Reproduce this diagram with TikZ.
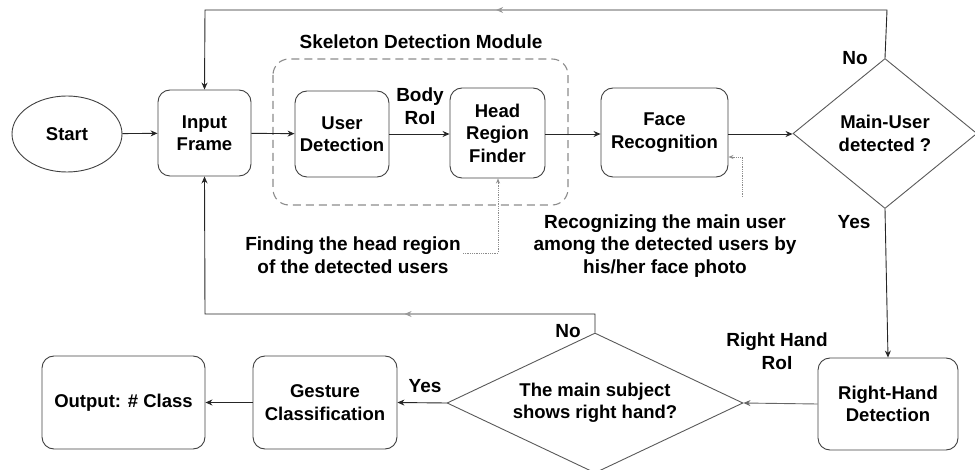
\documentclass[tikz,border=0pt]{standalone}
\usepackage{fontspec}
\setmainfont{Liberation Sans}
\usetikzlibrary{shapes.geometric,arrows.meta,decorations.markings}

\tikzset{
  every node/.style={font=\fontsize{18.5}{22.5}\selectfont\bfseries, text=black, align=center},
  box/.style={draw=black!75, line width=0.9pt, rounded corners=12pt, inner sep=0pt},
  decision/.style={draw=black!65, line width=0.9pt, diamond, inner sep=0pt},
  flow/.style={draw=black!85, line width=0.9pt, -{Stealth[length=7pt,width=6pt]}},
  greyflow/.style={draw=black!60, line width=0.9pt, -{Stealth[length=7pt,width=6pt]}},
  note/.style={draw=black!45, line width=0.8pt, densely dotted, -{Stealth[length=5pt,width=4pt,open]}},
  tag/.style={inner sep=1pt, font=\fontsize{19}{22.5}\selectfont\bfseries},
}

\begin{document}
\begin{tikzpicture}[x=1pt, y=-1pt]
\useasboundingbox (0,0) rectangle (975,470);

% module frame
\draw[draw=black!45, line width=1.1pt, dash pattern=on 8pt off 5pt, rounded corners=16pt]
  (273,59) rectangle (568,205);
\node[tag] (modlabel) at (421,42) {Skeleton Detection Module};

% process blocks
\node[draw=black!75, line width=0.9pt, ellipse, minimum width=110pt, minimum height=76pt, inner sep=0pt] (start) at (67,134) {Start};
\node[box, minimum width=93pt, minimum height=86pt] (inp) at (204.5,133) {Input\\Frame};
\node[box, minimum width=94pt, minimum height=86pt] (user) at (342,134) {User\\Detection};
\node[box, minimum width=95pt, minimum height=90pt] (head) at (497.5,133) {Head\\Region\\Finder};
\node[box, minimum width=127pt, minimum height=89pt] (face) at (664.5,132.5) {Face\\Recognition};
\node[decision, aspect=1.23, minimum width=184pt, minimum height=150pt] (main) at (885,133.5) {Main-User\\detected ?};
\node[box, minimum width=140pt, minimum height=92pt] (hand) at (888,404) {Right-Hand\\Detection};
\node[decision, aspect=2.1, minimum width=296pt, minimum height=140pt] (show) at (595,403) {The main subject\\shows right hand?};
\node[box, minimum width=144pt, minimum height=93pt] (gest) at (325,402.5) {Gesture\\Classification};
\node[box, minimum width=163pt, minimum height=93pt] (out) at (123.5,402.5) {Output: \# Class};

% labels
\node[tag] (bodyroi) at (420,106) {Body\\RoI};
\node[tag] (no1) at (855,58) {No};
\node[tag] (yes1) at (854,222) {Yes};
\node[tag] (handroi) at (777,351) {Right Hand\\RoI};
\node[tag] (no2) at (568,331) {No};
\node[tag] (yes2) at (425,386) {Yes};
\node[tag] (findnote) at (353,255) {Finding the head region\\of the detected users};
\node[tag] (recnote) at (665,246) {Recognizing the main user\\among the detected users by\\his/her face photo};

% main chain
\draw[flow] (start) -- (inp);
\draw[flow] (inp) -- (user);
\draw[flow] (user) -- (user -| head.west);
\draw[flow] (head.east |- 0,134) -- (face.west |- 0,134);
\draw[flow] (face.east |- 0,134) -- (main.west |- 0,134);
\draw[flow] (main.south) -- (hand.north);
\draw[greyflow] (hand.west) -- (show.east);
\draw[flow] (show.west) -- (gest.east);
\draw[flow] (gest.west) -- (out.east);

% feedback loops
\coordinate (topR) at (887,10);
\coordinate (topL) at (205,10);
\draw[flow, postaction={decorate, decoration={markings,
    mark=at position 439pt with {\arrow[black!40]{Stealth[length=7pt,width=6pt]}}}}]
  (main.north) -- (topR) -- (topL) -- (inp.north);
\coordinate (lowR) at (595,314);
\coordinate (lowL) at (205,314);
\draw[flow, postaction={decorate, decoration={markings,
    mark=at position 209pt with {\arrow[black!40]{Stealth[length=7pt,width=6pt]}}}}]
  (show.north) -- (lowR) -- (lowL) -- (inp.south);

% annotation pointers
\coordinate (findend) at (463,253);
\draw[note] (findend) -- (498,253) -- (head.south -| 498,0);
\coordinate (recend) at (742,197);
\draw[note] (recend) -- (742,157) -- (face.east |- 0,157);
\end{tikzpicture}
\end{document}
